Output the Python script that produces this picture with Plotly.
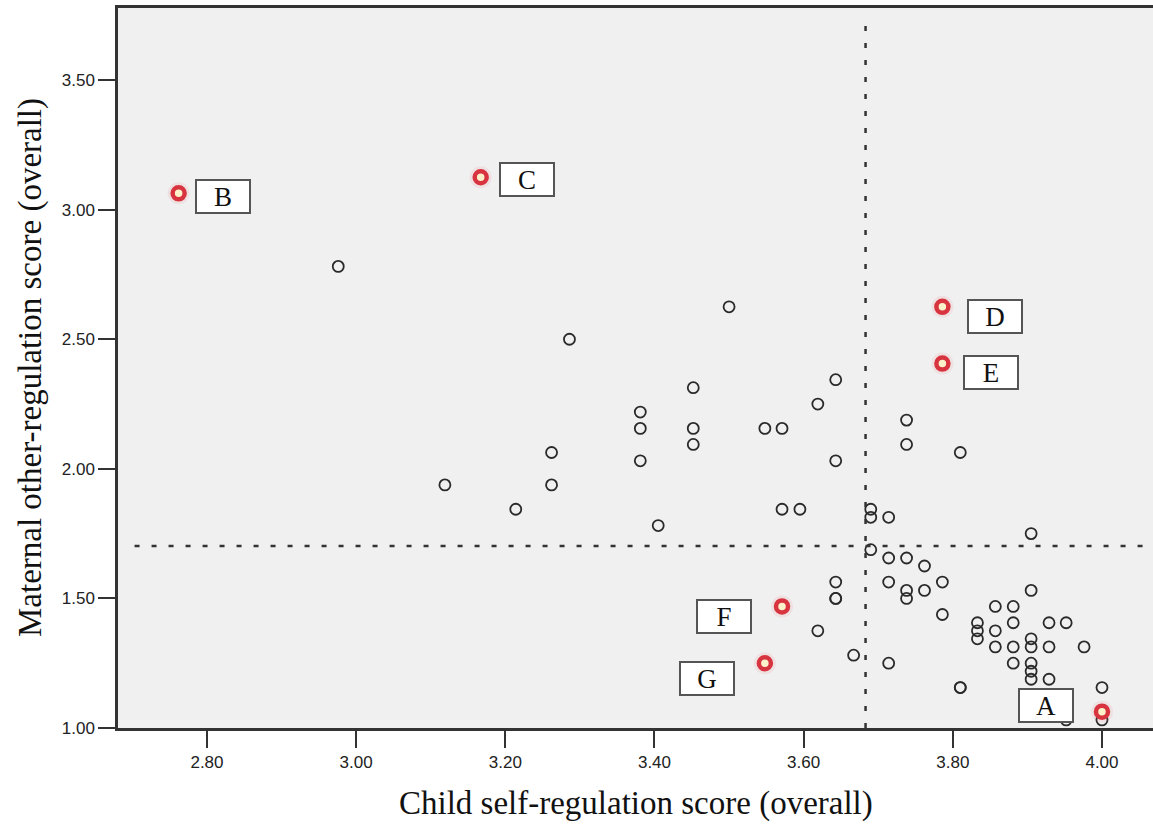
import plotly.graph_objects as go

# ---- data ----
child_score = [2.976, 3.119, 3.214, 3.262, 3.262, 3.286, 3.381, 3.381, 3.381, 3.405,
               3.452, 3.452, 3.452, 3.500, 3.548, 3.571, 3.571, 3.595, 3.619, 3.643,
               3.643, 3.619, 3.643, 3.643, 3.643, 3.667, 3.690, 3.690, 3.714, 3.690,
               3.714, 3.738, 3.762, 3.714, 3.738, 3.738, 3.762, 3.786, 3.786, 3.714,
               3.738, 3.738, 3.810, 3.810, 3.810, 3.833, 3.833, 3.833, 3.857, 3.881,
               3.857, 3.881, 3.905, 3.857, 3.881, 3.905, 3.905, 3.929, 3.952, 3.929,
               3.976, 3.881, 3.905, 3.905, 3.905, 3.929, 4.000, 3.952, 4.000, 3.905]
maternal_score = [2.781, 1.938, 1.844, 2.063, 1.938, 2.500, 2.219, 2.156, 2.031, 1.781,
                  2.313, 2.156, 2.094, 2.625, 2.156, 2.156, 1.844, 1.844, 2.250, 2.344,
                  2.031, 1.375, 1.563, 1.500, 1.500, 1.281, 1.844, 1.813, 1.813, 1.688,
                  1.656, 1.656, 1.625, 1.563, 1.531, 1.500, 1.531, 1.563, 1.438, 1.250,
                  2.188, 2.094, 2.063, 1.156, 1.156, 1.406, 1.375, 1.344, 1.469, 1.469,
                  1.375, 1.406, 1.531, 1.313, 1.313, 1.344, 1.313, 1.406, 1.406, 1.313,
                  1.313, 1.250, 1.250, 1.219, 1.188, 1.188, 1.156, 1.031, 1.031, 1.750]

case_labels = ["A", "B", "C", "D", "E", "F", "G"]
case_child = [4.000, 2.762, 3.167, 3.786, 3.786, 3.571, 3.548]
case_maternal = [1.063, 3.063, 3.125, 2.625, 2.406, 1.469, 1.250]

child_ref = 3.683
maternal_ref = 1.702

x_ticks = [2.8, 3.0, 3.2, 3.4, 3.6, 3.8, 4.0]
y_ticks = [1.0, 1.5, 2.0, 2.5, 3.0, 3.5]

x_title = "Child self-regulation score (overall)"
y_title = "Maternal other-regulation score (overall)"

# label placement style (pixel offsets): anchor, xshift, yshift
label_style = {
    "A": ("right", -28, 6),
    "B": ("left", 16, -3),
    "C": ("left", 18, -2),
    "D": ("left", 25, -10),
    "E": ("left", 21, -9),
    "F": ("right", -30, -10),
    "G": ("right", -30, -15),
}

fig = go.Figure()

fig.add_trace(go.Scatter(
    x=child_score, y=maternal_score, mode="markers",
    marker=dict(symbol="circle-open", size=11, color="#2a2a2a",
                line=dict(width=1.8, color="#2a2a2a")),
    showlegend=False, hoverinfo="x+y"))

# halo
fig.add_trace(go.Scatter(
    x=case_child, y=case_maternal, mode="markers",
    marker=dict(symbol="circle", size=22, color="rgba(235,120,130,0.13)",
                line=dict(width=0)),
    showlegend=False, hoverinfo="skip"))
fig.add_trace(go.Scatter(
    x=case_child, y=case_maternal, mode="markers",
    marker=dict(symbol="circle", size=12, color="#fdf1c9",
                line=dict(width=4.5, color="#d8343f")),
    showlegend=False, hoverinfo="x+y"))

# reference lines
fig.add_shape(type="line", xref="x", yref="paper", x0=child_ref, x1=child_ref,
              y0=0, y1=0.99, line=dict(color="#333333", width=2.5, dash="5px,12px"))
fig.add_shape(type="line", xref="paper", yref="y", x0=0.016, x1=1,
              y0=maternal_ref, y1=maternal_ref,
              line=dict(color="#333333", width=2.5, dash="5px,12px"))

for lab, cx, cy in zip(case_labels, case_child, case_maternal):
    anchor, xs, ys = label_style[lab]
    fig.add_annotation(
        x=cx, y=cy, xref="x", yref="y", text=lab, showarrow=False,
        xanchor=anchor, yanchor="middle", xshift=xs, yshift=ys,
        width=52, height=31, borderpad=0, borderwidth=2,
        bordercolor="#555555", bgcolor="#ffffff",
        font=dict(family="Liberation Serif", size=27, color="#111111"))

fig.add_annotation(text=x_title, xref="paper", yref="paper", x=0.5, y=0,
                   xanchor="center", yanchor="middle", yshift=-75, showarrow=False,
                   font=dict(family="Liberation Serif", size=33, color="#111111"))
fig.add_annotation(text=y_title, xref="paper", yref="paper", x=0, y=0.5,
                   xanchor="center", yanchor="middle", xshift=-88, textangle=-90,
                   showarrow=False,
                   font=dict(family="Liberation Serif", size=33, color="#111111"))

fig.update_layout(
    width=1153, height=831,
    margin=dict(l=118, r=0, t=8, b=103),
    paper_bgcolor="#ffffff", plot_bgcolor="#f0f0f0",
    xaxis=dict(range=[2.6807, 4.0684], tickvals=x_ticks, tickformat=".2f",
               ticks="outside", ticklen=17, tickwidth=2, tickcolor="#333333",
               showline=True, linewidth=2.5, linecolor="#333333", mirror=True,
               showgrid=False, zeroline=False,
               tickfont=dict(family="Liberation Sans", size=17, color="#222222")),
    yaxis=dict(range=[1.0, 3.778], tickvals=y_ticks, tickformat=".2f",
               ticks="outside", ticklen=17, tickwidth=2, tickcolor="#333333",
               showline=True, linewidth=2.5, linecolor="#333333", mirror=False,
               showgrid=False, zeroline=False,
               tickfont=dict(family="Liberation Sans", size=17, color="#222222")),
)

fig.write_html("out.html", config={"displayModeBar": False},
               post_script="document.body.style.margin='0';document.body.style.overflow='hidden';")
